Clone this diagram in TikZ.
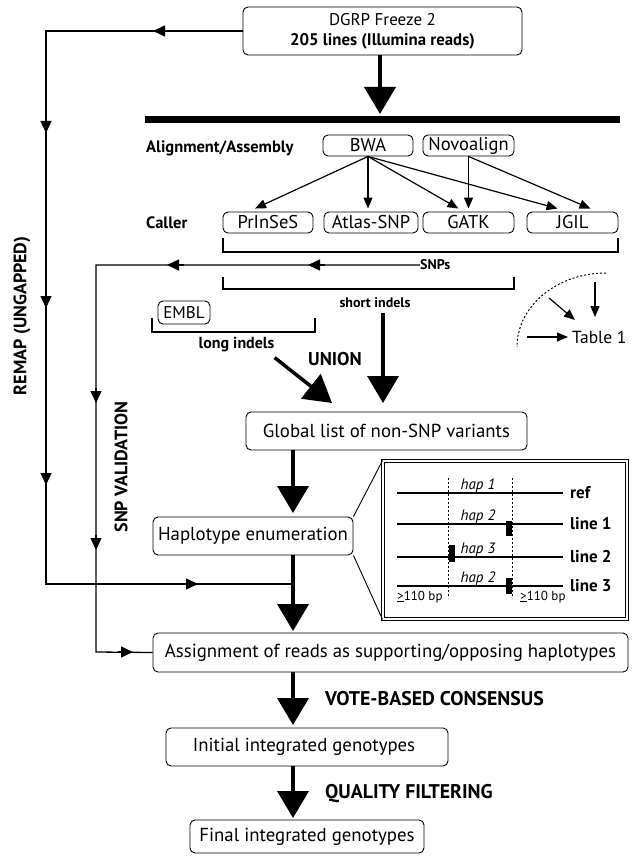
\documentclass[tikz,border=0pt]{standalone}
\usepackage{fontspec}
\setmainfont{PT Sans}
\usetikzlibrary{arrows.meta}
\begin{document}
\begin{tikzpicture}[x=1pt,y=-1pt,
  box/.style={draw, rounded corners=5pt, line width=0.9pt, inner sep=0pt, align=center, font=\fontsize{18.8}{21}\selectfont},
  sbox/.style={draw, rounded corners=5pt, line width=0.9pt, inner sep=0pt, minimum height=21pt, font=\fontsize{18.5}{20}\selectfont},
  lbl/.style={font=\bfseries\fontsize{16.5}{18}\selectfont, inner sep=0pt},
  conn/.style={line width=1.3pt},
  tip/.style={line width=1.3pt, -{Triangle[length=12pt,width=11pt]}},
  stip/.style={line width=1.2pt, -{Triangle[length=11pt,width=9pt]}},
  big/.style={line width=4pt, -{Triangle[length=27pt,width=31pt]}},
  hap/.style={font=\itshape\fontsize{15}{17}\selectfont, inner sep=0pt},
  lin/.style={font=\bfseries\fontsize{17}{19}\selectfont, inner sep=0pt, anchor=west},
  dsh/.style={line width=1pt, dash pattern=on 2pt off 2pt},
]
\useasboundingbox (0,0) rectangle (632,856);

% top box
\node[box, minimum width=279pt, minimum height=48pt] (dgrp) at (382.5,31)
  {{\fontsize{17}{20}\selectfont DGRP Freeze 2}\\[-1pt]{\bfseries\fontsize{16.8}{20}\selectfont 205 lines (Illumina reads)}};

% thick bar
\coordinate (barL) at (145,119.5);
\coordinate (barR) at (620,119.5);
\draw[line width=7pt] (barL) -- (barR);
\draw[big] (dgrp.south -| 380,0) -- (380,114);

% alignment row
\node[lbl, anchor=base west] (alab) at (146,152) {Alignment/Assembly};
\node[sbox, minimum width=90pt] (bwa) at (368,145.5) {BWA};
\node[sbox, minimum width=91pt] (novo) at (468.5,145.5) {Novoalign};

% caller row
\node[lbl, anchor=base west] (clab) at (146,228) {Caller};
\node[sbox, minimum width=90pt] (prinses) at (268,222.5) {PrInSeS};
\node[sbox, minimum width=94pt] (atlas) at (371,222.5) {Atlas-SNP};
\node[sbox, minimum width=91pt] (gatk) at (468.5,222.5) {GATK};
\node[sbox, minimum width=91pt] (jgil) at (572.5,222.5) {JGIL};

\draw[stip] (bwa.south) -- ([xshift=-13pt,yshift=3pt]prinses.north);
\draw[stip] (bwa.south) -- ([yshift=3pt]bwa.south |- atlas.north);
\draw[stip] (bwa.south) -- ([xshift=-10pt,yshift=3pt]gatk.north);
\draw[stip] (bwa.south) -- ([xshift=-15pt,yshift=3pt]jgil.north);
\draw[stip] (novo.south) -- ([yshift=3pt]novo.south |- gatk.north);
\draw[stip] (novo.south) -- ([xshift=18pt,yshift=3pt]jgil.north);

% bracket 1 and SNPs
\draw[conn] (223,238) -- (223,252) -- (618,252) -- (618,238);
\node[lbl, anchor=west, font=\bfseries\fontsize{14}{16}\selectfont] (snps) at (420,265) {SNPs};
\coordinate (sc1) at (96,265);
\coordinate (sc2) at (96,652);

% bracket 2 and short indels
\draw[conn] (223,277) -- (223,289) -- (514,289) -- (514,277);
\node[lbl, anchor=base, font=\bfseries\fontsize{14}{16}\selectfont] (short) at (375,307) {short indels};

% EMBL
\node[sbox, minimum width=52pt, minimum height=23pt, font=\fontsize{17}{20}\selectfont] (embl) at (184,312.5) {EMBL};
\draw[conn] (152,318) -- (152,332) -- (315,332) -- (315,318);
\node[lbl, anchor=base, font=\bfseries\fontsize{16}{18}\selectfont] (long) at (236.5,348) {long indels};
\node[lbl, anchor=base, font=\bfseries\fontsize{18.5}{20}\selectfont] (union) at (335,365) {UNION};

% Table 1 legend
\node[anchor=west, inner sep=0pt, font=\fontsize{17.5}{20}\selectfont] (tab) at (572,337) {Table 1};
\draw[dsh] (606,273) .. controls (557,273) and (517,306) .. (517,347);
\draw[stip] (527,337) -- ([xshift=-4pt]tab.west);
\draw[stip] (595,282) -- (595,317);
\draw[stip] (549,298) -- (575,320);

% global list
\node[box, minimum width=281pt, minimum height=38pt] (glob) at (386.5,431) {Global list of non-SNP variants};
\draw[big, line width=3.5pt] (long.south east) ++(0,6) -- (332,403);
\draw[big, line width=3.5pt] (short.south) ++(8,6) -- (383,403);

% haplotype
\node[box, minimum width=200pt, minimum height=38pt] (hap) at (253,536) {Haplotype enumeration};
\draw[big] (glob.south -| 293,0) -- (293,513);

% assignment
\node[box, minimum width=475pt, minimum height=39pt] (assign) at (390.5,652.5) {Assignment of reads as supporting/opposing haplotypes};
\draw[big] (hap.south -| 293,0) -- (293,631);

% REMAP path
\coordinate (rc1) at (46,31);
\coordinate (rc2) at (46,584);
\coordinate (join) at (293,584);
\draw[conn] (dgrp.west) -- (rc1) -- (rc2) -- (join);
\draw[tip] (170,31) -- (153,31);
\draw[tip] (46,118) -- (46,133);
\draw[tip] (46,293) -- (46,308);
\draw[tip] (46,470) -- (46,485);
\draw[tip] (183,584) -- (198,584);

% SNP path
\draw[conn] (snps.west) -- (sc1) -- (sc2) -- (assign.west);
\draw[tip] (325,265) -- (308,265);
\draw[tip] (184,265) -- (167,265);
\draw[tip] (96,388) -- (96,403);
\draw[tip] (96,535) -- (96,550);
\draw[tip] (118,652) -- (133,652);

% rotated labels
\node[lbl, rotate=90, font=\bfseries\fontsize{18}{20}\selectfont] (remap) at (22,316) {REMAP (UNGAPPED)};
\node[lbl, rotate=90, font=\bfseries\fontsize{18}{20}\selectfont] (snpval) at (121,467) {SNP VALIDATION};

% lower chain
\node[box, minimum width=282pt, minimum height=38pt] (init) at (307,747) {Initial integrated genotypes\hspace*{6pt}};
\draw[big] (assign.south -| 293,0) -- (293,725);
\node[lbl, anchor=base west, font=\bfseries\fontsize{19.8}{21}\selectfont] (vote) at (325,705) {VOTE-BASED CONSENSUS};
\node[box, minimum width=234pt, minimum height=33pt] (final) at (307,836.5) {Final integrated genotypes};
\draw[big] (init.south -| 293,0) -- (293,818);
\node[lbl, anchor=base west, font=\bfseries\fontsize{19.8}{21}\selectfont] (qual) at (325,798) {QUALITY FILTERING};

% inset
\node[draw, double, line width=0.9pt, double distance=2.2pt, minimum width=244pt, minimum height=158pt, inner sep=0pt] (inset) at (505,540) {};
\draw[line width=0.9pt] (hap.north east) -- (inset.north west);
\draw[line width=0.9pt] (hap.south east) -- (inset.south west);

\draw[conn] (397,493) -- (563,493);
\draw[conn] (397,524) -- (563,524);
\draw[conn] (397,557) -- (563,557);
\draw[conn] (397,586) -- (563,586);
\draw[dsh] (448,478) -- (448,598);
\draw[dsh] (512,478) -- (512,598);
\fill (506,521) rectangle (512,536);
\fill (449,545) rectangle (455,562);
\fill (506,578) rectangle (512,594);
\node[lin] (l0) at (570,493) {ref};
\node[lin] (l1) at (570,524) {line 1};
\node[lin] (l2) at (570,557) {line 2};
\node[lin] (l3) at (570,586) {line 3};
\node[hap, anchor=base] (h1) at (478,489) {hap 1};
\node[hap, anchor=base] (h2) at (478,520) {hap 2};
\node[hap, anchor=base] (h3) at (478,553) {hap 3};
\node[hap, anchor=base] (h4) at (478,582) {hap 2};
\node[anchor=base west, inner sep=0pt, font=\fontsize{13}{15}\selectfont] (bp1) at (397,600) {\underline{>}110 bp};
\node[anchor=base west, inner sep=0pt, font=\fontsize{13}{15}\selectfont] (bp2) at (520,600) {\underline{>}110 bp};
\end{tikzpicture}
\end{document}
